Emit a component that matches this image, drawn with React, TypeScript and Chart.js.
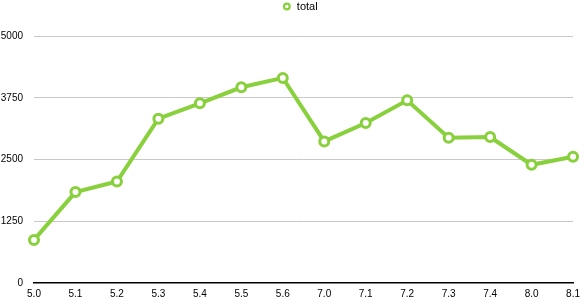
import React, { useEffect, useRef } from "react";
import { Chart, registerables } from "chart.js";

Chart.register(...registerables);

const categories = ["5.0", "5.1", "5.2", "5.3", "5.4", "5.5", "5.6", "7.0", "7.1", "7.2", "7.3", "7.4", "8.0", "8.1"];
const totalValues = [872, 1840, 2055, 3327, 3637, 3962, 4152, 2866, 3239, 3698, 2941, 2955, 2393, 2556];
const yTicks = [0, 1250, 2500, 3750, 5000];

const GREEN = "rgb(136, 208, 60)";
const FONT = "'Liberation Sans', Arial, sans-serif";

export default function App() {
  const ref = useRef<HTMLCanvasElement | null>(null);

  useEffect(() => {
    if (!ref.current) return;
    const legendTweak = {
      id: "legendTweak",
      beforeInit(chart: any) {
        const orig = chart.legend.fit;
        chart.legend.fit = function () {
          orig.call(this);
          this.height = 36;
        };
      },
      afterLayout(chart: any) {
        const lg = chart.legend;
        if (lg) {
          lg.left += 12;
          lg.right += 12;
        }
      },
    };
    const chart = new Chart(ref.current, {
      type: "line",
      data: {
        labels: categories,
        datasets: [
          {
            label: "total",
            data: totalValues,
            borderColor: GREEN,
            backgroundColor: "#ffffff",
            borderWidth: 4,
            pointRadius: 4.5,
            pointBorderWidth: 3,
            pointBackgroundColor: "#ffffff",
            pointBorderColor: GREEN,
            tension: 0,
            fill: false,
          },
        ],
      },
      options: {
        responsive: false,
        animation: false,
        layout: { padding: { left: 0, right: 9, top: 0, bottom: 0 } },
        plugins: {
          tooltip: { enabled: false },
          legend: {
            position: "top",
            labels: {
              usePointStyle: true,
              pointStyle: "circle",
              boxWidth: 9,
              boxHeight: 4,
              padding: 1,
              color: "#000",
              font: { family: FONT, size: 11 },
              generateLabels(chart: any) {
                const items = Chart.defaults.plugins.legend.labels.generateLabels(chart);
                items.forEach((it: any) => {
                  it.lineWidth = 2.2;
                  it.fillStyle = "#ffffff";
                  it.strokeStyle = GREEN;
                });
                return items;
              },
            },
          },
        },
        scales: {
          x: {
            offset: false,
            grid: { display: false, drawTicks: false },
            border: { display: true, color: "#000", width: 1.5 },
            ticks: {
              color: "#000",
              padding: 5,
              maxRotation: 0,
              autoSkip: false,
              font: { family: FONT, size: 10 },
            },
            afterFit(scale: any) {
              scale.height = 17;
            },
          },
          y: {
            min: 0,
            max: 5000,
            afterBuildTicks(scale: any) {
              scale.ticks = yTicks.map((v) => ({ value: v }));
            },
            grid: {
              drawTicks: false,
              color: (ctx: any) => (ctx.tick && ctx.tick.value === 0 ? "rgba(0,0,0,0)" : "#c8c8c8"),
              lineWidth: 1,
            },
            border: { display: false },
            ticks: {
              color: "#000",
              padding: 11,
              font: { family: FONT, size: 10 },
              callback: (v: any) => String(v),
            },
            afterFit(scale: any) {
              scale.width = 34;
            },
          },
        },
      },
      plugins: [legendTweak],
    });
    return () => chart.destroy();
  }, []);

  return (
    <div style={{ position: "fixed", left: 0, top: 0, width: 585, height: 300, background: "#fff" }}>
      <canvas ref={ref} width={585} height={300} />
    </div>
  );
}
